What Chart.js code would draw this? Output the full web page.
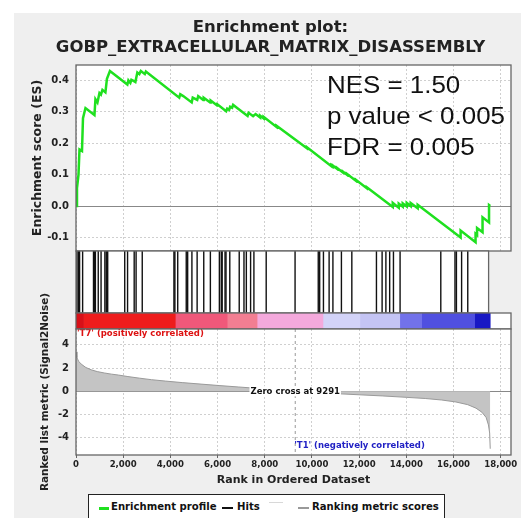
<!DOCTYPE html>
<html>
<head>
<meta charset="utf-8">
<script src="https://cdn.jsdelivr.net/npm/chart.js@4.4.1/dist/chart.umd.min.js"></script>
<style>
  body { margin: 0; width: 521px; height: 518px; overflow: hidden; position: relative; background: #fff; }
  #panel { position: absolute; left: 14px; top: 13px; width: 507px; height: 505px; background: #efefef; }
  canvas { position: absolute; left: 0; top: 0; }
  #legend { position: absolute; left: 88px; top: 494px; width: 355px; height: 40px; border: 1.5px solid #222; background: #fff;
            font: bold 10.1px 'DejaVu Sans', sans-serif; color: #111; }
  #legend span { position: absolute; white-space: nowrap; }
  #legend .txt { top: 6px; line-height: 12px; }
</style>
</head>
<body>
<div id="panel"></div>
<canvas id="esChart" width="521" height="518"></canvas>
<canvas id="hitChart" width="521" height="518"></canvas>
<canvas id="barChart" width="521" height="518"></canvas>
<canvas id="metricChart" width="521" height="518"></canvas>
<div id="legend">
  <span style="left:10px;top:12px;width:10px;height:3px;background:#1fe01f"></span>
  <span class="txt" style="left:22px">Enrichment profile</span>
  <span style="left:133px;top:12px;width:11px;height:1.5px;background:#111"></span>
  <span class="txt" style="left:148px">Hits</span>
  <span style="left:180px;top:7px;width:14px;height:1px;background:#d8d8d8"></span>
  <span style="left:209px;top:12px;width:11px;height:1.5px;background:#999"></span>
  <span class="txt" style="left:223px">Ranking metric scores</span>
</div>
<script>
// ---- data ----
const listSize = 17555;
const zeroCross = 9291;
const rankMax = 18435;
const rankTicks = [0, 2000, 4000, 6000, 8000, 10000, 12000, 14000, 16000, 18000];

const titleLines = ['Enrichment plot:', 'GOBP_EXTRACELLULAR_MATRIX_DISASSEMBLY'];
const statLines = ['NES = 1.50', 'p value < 0.005', 'FDR = 0.005'];
const posLabel = "'T7' (positively correlated)";
const negLabel = "'T1' (negatively correlated)";

// running enrichment score (rank, ES)
const esRanks = [0, 42, 106, 148, 254, 296, 402, 782, 824, 909, 994, 1057, 1120, 1247, 1311, 1438,
  2177, 2220, 2304, 2347, 2516, 2600, 2685, 2748, 2917, 2960, 4376, 4418, 4545, 4904, 4947,
  5137, 5179, 5391, 5412, 5687, 5708, 5983, 6004, 6363, 6406, 6491, 6532, 6617, 6659, 6871,
  7272, 7314, 7505, 7611, 7801, 7801, 7949, 7949, 8498, 8498, 9788, 9788, 10824, 10824,
  10887, 10887, 11056, 11056, 11309, 11309, 11479, 11479, 11859, 11859, 12324, 12324,
  13424, 13424, 13677, 13677, 13846, 13846, 14015, 14015, 14184, 14184, 14480, 14480,
  16299, 16299, 16933, 16933, 16997, 16997, 17229, 17229, 17504, 17504, 17555];
const esValues = [0, 0.057, 0.10, 0.18, 0.175, 0.28, 0.312, 0.29, 0.34, 0.33, 0.36, 0.355, 0.37, 0.362, 0.405, 0.43,
  0.387, 0.40, 0.392, 0.402, 0.395, 0.425, 0.42, 0.43, 0.42, 0.428, 0.345, 0.356, 0.35, 0.33, 0.345,
  0.338, 0.35, 0.338, 0.345, 0.33, 0.336, 0.32, 0.323, 0.302, 0.31, 0.306, 0.316, 0.313, 0.322, 0.31,
  0.287, 0.297, 0.286, 0.293, 0.282, 0.288, 0.279, 0.284, 0.252, 0.256, 0.184, 0.187, 0.127, 0.130,
  0.126, 0.129, 0.119, 0.122, 0.107, 0.110, 0.100, 0.103, 0.081, 0.084, 0.057, 0.060,
  -0.003, 0.010, -0.005, 0.008, -0.002, 0.009, -0.001, 0.010, 0.000, 0.010, -0.007, 0.004,
  -0.100, -0.078, -0.115, -0.088, -0.092, -0.070, -0.083, -0.036, -0.052, 0.003, 0.0];

// gene-set members along the ranked list
const hitRanks = [42, 110, 160, 296, 782, 824, 866, 994, 1120, 1290, 1353, 1416, 2177, 2304, 2600, 2685,
  2960, 4376, 4418, 4545, 4926, 4989, 5179, 5412, 5708, 6004, 6406, 6491, 6532, 6659, 6702, 6871,
  7293, 7505, 7611, 7801, 7949, 8498, 9788, 10824, 10887, 11056, 11309, 11479, 11859, 12324,
  13424, 13677, 13846, 14015, 14184, 14480, 16299, 16933, 16997, 17229, 17504];

// heat bar band edges (rank)
const barEdges = [0, 317, 4207, 6406, 7674, 10465, 12029, 13720, 14650, 16891, 17555];

// ranked list metric (Signal2Noise)
const metricRanks = [0, 40, 120, 250, 420, 650, 900, 1200, 1500, 1800, 2200, 2700, 3200, 3800, 4500,
  5300, 6100, 6900, 7700, 8500, 9291, 10100, 11000, 12000, 13000, 14000, 14800, 15500, 16100,
  16600, 16950, 17200, 17380, 17480, 17530, 17555];
const metricValues = [3.4, 2.9, 2.55, 2.3, 2.05, 1.85, 1.7, 1.58, 1.48, 1.4, 1.27, 1.13, 1.0, 0.88, 0.75,
  0.62, 0.49, 0.37, 0.25, 0.13, 0, -0.1, -0.2, -0.3, -0.4, -0.52, -0.62, -0.75, -0.92,
  -1.15, -1.45, -1.8, -2.25, -2.9, -3.6, -4.95];

// ---- styling ----
const FONT = "'DejaVu Sans', sans-serif";
Chart.defaults.font.family = FONT;
Chart.defaults.color = '#222';
const barColours = ['#d81018', '#ee1c1c', '#f0587a', '#f27e92', '#f4a9dc', '#d3d3f8', '#c4c4f4', '#7272ea', '#5050e0', '#1818c4'];
const GRID = '#cfcfcf';

const isZero = v => Math.abs(v) < 1e-9;
const useRankTicks = s => { s.ticks = rankTicks.map(v => ({ value: v })); };

// white plot background + dark frame around each panel
const panelFrame = {
  id: 'panelFrame',
  beforeDraw(chart) {
    const { ctx, chartArea: a } = chart;
    ctx.save();
    ctx.fillStyle = '#fff';
    ctx.fillRect(a.left, a.top, a.width, a.height);
    ctx.restore();
  },
  afterDraw(chart) {
    const { ctx, chartArea: a } = chart;
    ctx.save();
    ctx.strokeStyle = '#666';
    ctx.lineWidth = 1.3;
    ctx.strokeRect(a.left, a.top, a.width, a.height);
    ctx.restore();
  }
};

const statsText = {
  id: 'statsText',
  afterDatasetsDraw(chart) {
    const { ctx, chartArea: a } = chart;
    ctx.save();
    ctx.font = "24px 'Liberation Sans', Arial, sans-serif";
    ctx.fillStyle = '#111';
    statLines.forEach((line, i) => {
      ctx.save();
      ctx.translate(a.left + 251, a.top + 27.5 + i * 31);
      ctx.scale(1.08, 1);
      ctx.fillText(line, 0, 0);
      ctx.restore();
    });
    ctx.restore();
  }
};

const metricNotes = {
  id: 'metricNotes',
  afterDatasetsDraw(chart) {
    const { ctx, chartArea: a, scales: { x, y } } = chart;
    const zx = x.getPixelForValue(zeroCross);
    const zy = y.getPixelForValue(0);
    ctx.save();
    ctx.strokeStyle = '#999';
    ctx.lineWidth = 1;
    ctx.setLineDash([3, 3]);
    ctx.beginPath();
    ctx.moveTo(zx, a.top);
    ctx.lineTo(zx, a.bottom);
    ctx.stroke();
    ctx.setLineDash([]);

    ctx.font = 'bold 8.5px ' + FONT;
    ctx.textBaseline = 'middle';
    const label = 'Zero cross at ' + zeroCross;
    const w = ctx.measureText(label).width;
    ctx.fillStyle = '#fff';
    ctx.fillRect(zx - w / 2 - 1, zy - 5, w + 2, 10);
    ctx.fillStyle = '#111';
    ctx.textAlign = 'center';
    ctx.fillText(label, zx, zy);

    ctx.textAlign = 'left';
    ctx.fillStyle = '#dd1111';
    ctx.fillText(posLabel, a.left + 1, a.top + 5);
    ctx.fillStyle = '#2121c4';
    ctx.fillText(negLabel, zx - 1, a.bottom - 9);
    ctx.restore();
  }
};

const base = {
  responsive: false,
  animation: false,
  events: [],
  plugins: { legend: { display: false }, tooltip: { enabled: false } }
};

const hiddenRank = { type: 'linear', min: 0, max: rankMax, display: false };

// Enrichment score panel
new Chart(document.getElementById('esChart'), {
  type: 'line',
  data: {
    datasets: [{
      label: 'Enrichment profile',
      data: esRanks.map((r, i) => ({ x: r, y: esValues[i] })),
      borderColor: '#1fe01f',
      borderWidth: 2.5,
      pointRadius: 0,
      tension: 0
    }]
  },
  options: {
    ...base,
    layout: { padding: { left: 30, right: 10, top: 0, bottom: 267 } },
    plugins: {
      ...base.plugins,
      title: {
        display: true,
        text: titleLines,
        color: '#222',
        font: { size: 16.5, weight: 'bold', lineHeight: '20px' },
        padding: { top: 18, bottom: 7 }
      }
    },
    scales: {
      x: {
        type: 'linear', min: 0, max: rankMax,
        afterBuildTicks: useRankTicks,
        ticks: { display: false },
        grid: { color: GRID, drawTicks: false },
        border: { display: false, dash: [2, 2] },
        afterFit: s => { s.height = 0; }
      },
      y: {
        min: -0.143, max: 0.449,
        ticks: { stepSize: 0.1, includeBounds: false, padding: 7, font: { size: 10, weight: 'bold' },
                 callback: v => v.toFixed(1) },
        grid: { drawTicks: false, color: c => isZero(c.tick.value) ? '#888' : GRID },
        border: { display: false, dash: c => isZero(c.tick.value) ? [] : [2, 2] },
        title: { display: true, text: 'Enrichment score (ES)', font: { size: 12.5, weight: 'bold' }, padding: 0 },
        afterFit: s => { s.width = 46; }
      }
    }
  },
  plugins: [panelFrame, statsText]
});

// Hit ladder
new Chart(document.getElementById('hitChart'), {
  type: 'scatter',
  data: {
    datasets: [{
      label: 'Hits',
      data: hitRanks.map(r => ({ x: r, y: 0.5 })),
      pointStyle: 'line',
      rotation: 90,
      radius: 31,
      borderColor: '#111',
      borderWidth: 1.4
    }]
  },
  options: {
    ...base,
    layout: { padding: { left: 76, right: 10, top: 251, bottom: 205 } },
    scales: { x: hiddenRank, y: { min: 0, max: 1, display: false } }
  },
  plugins: [panelFrame]
});

// Ranked list heat bar
new Chart(document.getElementById('barChart'), {
  type: 'bar',
  data: {
    labels: [''],
    datasets: barColours.map((c, i) => ({
      data: [[barEdges[i], barEdges[i + 1]]],
      backgroundColor: c,
      borderWidth: 0,
      grouped: false,
      barPercentage: 1,
      categoryPercentage: 1
    }))
  },
  options: {
    ...base,
    indexAxis: 'y',
    layout: { padding: { left: 76, right: 10, top: 313, bottom: 189 } },
    scales: { x: hiddenRank, y: { display: false } }
  },
  plugins: [panelFrame]
});

// Ranked list metric
new Chart(document.getElementById('metricChart'), {
  type: 'line',
  data: {
    datasets: [{
      label: 'Ranking metric scores',
      data: metricRanks.map((r, i) => ({ x: r, y: metricValues[i] })),
      borderColor: '#9a9a9a',
      backgroundColor: '#c4c4c4',
      borderWidth: 1,
      fill: 'origin',
      pointRadius: 0,
      tension: 0
    }]
  },
  options: {
    ...base,
    layout: { padding: { left: 39, right: 10, top: 329, bottom: 31 } },
    scales: {
      x: {
        type: 'linear', min: 0, max: rankMax,
        afterBuildTicks: useRankTicks,
        ticks: { padding: 1, maxRotation: 0, autoSkip: false,
                 font: { size: 9.5, weight: 'bold', family: "'DejaVu Sans Condensed', 'DejaVu Sans', sans-serif" } },
        grid: { color: GRID, tickLength: 3, tickColor: '#666' },
        border: { display: false, dash: [2, 2] },
        title: { display: true, text: 'Rank in Ordered Dataset', font: { size: 11, weight: 'bold' }, padding: 0 },
        afterFit: s => { s.height = 32; }
      },
      y: {
        min: -5.49, max: 5.37,
        ticks: { stepSize: 2, includeBounds: false, padding: 7, font: { size: 10, weight: 'bold' } },
        grid: { drawTicks: false, color: c => isZero(c.tick.value) ? '#888' : GRID },
        border: { display: false, dash: c => isZero(c.tick.value) ? [] : [2, 2] },
        title: { display: true, text: 'Ranked list metric (Signal2Noise)', font: { size: 10.5, weight: 'bold' }, padding: 0 },
        afterFit: s => { s.width = 37; }
      }
    }
  },
  plugins: [panelFrame, metricNotes]
});
</script>
</body>
</html>
